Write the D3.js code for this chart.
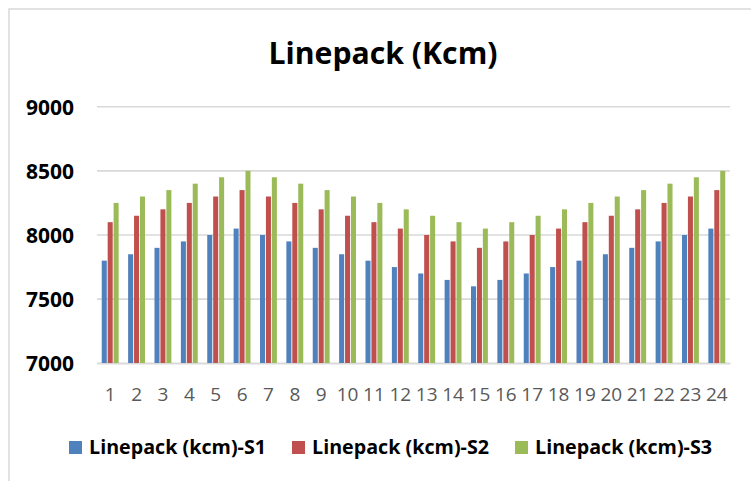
<!DOCTYPE html>
<html>
<head>
<meta charset="utf-8">
<script src="https://cdn.jsdelivr.net/npm/d3@7"></script>
<style>
  html, body { margin: 0; padding: 0; background: #fff; }
  svg { display: block; }
</style>
</head>
<body>
<script>
const categories = ["1","2","3","4","5","6","7","8","9","10","11","12","13","14","15","16","17","18","19","20","21","22","23","24"];
const seriesNames = ["Linepack (kcm)-S1", "Linepack (kcm)-S2", "Linepack (kcm)-S3"];
const s1 = [7800,7850,7900,7950,8000,8050,8000,7950,7900,7850,7800,7750,7700,7650,7600,7650,7700,7750,7800,7850,7900,7950,8000,8050];
const s2 = [8100,8150,8200,8250,8300,8350,8300,8250,8200,8150,8100,8050,8000,7950,7900,7950,8000,8050,8100,8150,8200,8250,8300,8350];
const s3 = [8250,8300,8350,8400,8450,8500,8450,8400,8350,8300,8250,8200,8150,8100,8050,8100,8150,8200,8250,8300,8350,8400,8450,8500];
const yTicks = [7000, 7500, 8000, 8500, 9000];
const colors = ["#4f81bd", "#c0504d", "#9bbb59"];
const title = "Linepack (Kcm)";

const W = 751, H = 481;
const svg = d3.select("body").append("svg").attr("width", W).attr("height", H);

// chart border (right/bottom edges fall outside the window)
svg.append("rect").attr("x", 9).attr("y", 9).attr("width", 780).attr("height", 520)
  .attr("fill", "#fff").attr("stroke", "#d9d9d9").attr("stroke-width", 1.5);

const plot = {left: 97, right: 730, top: 106.7, bottom: 363.3};

const y = d3.scaleLinear().domain([7000, 9000]).range([plot.bottom, plot.top]);
const x0 = d3.scaleBand().domain(categories).range([plot.left, plot.right])
  .paddingInner(0.36).paddingOuter(0.18);
const x1 = d3.scaleBand().domain(seriesNames).range([0, x0.bandwidth()]).paddingInner(0.15);

// title
svg.append("text").attr("x", 383).attr("y", 63.5).attr("text-anchor", "middle")
  .attr("font-family", "'Open Sans', sans-serif").attr("font-weight", "bold")
  .attr("font-size", 31).attr("fill", "#000")
  .attr("textLength", 229).attr("lengthAdjust", "spacingAndGlyphs")
  .text(title);

// gridlines
svg.append("g").selectAll("line").data(yTicks).join("line")
  .attr("x1", plot.left).attr("x2", plot.right)
  .attr("y1", d => y(d)).attr("y2", d => y(d))
  .attr("stroke", "#d9d9d9").attr("stroke-width", 1.6);

// y axis labels
const yAxis = d3.axisLeft(y).tickValues(yTicks).tickSize(0).tickPadding(0).tickFormat(d3.format("d"));
const gy = svg.append("g").attr("transform", `translate(74,0)`).call(yAxis);
gy.select(".domain").remove();
gy.selectAll("text").attr("font-family", "'Open Sans', sans-serif").attr("font-weight", "bold")
  .attr("font-size", 21).attr("fill", "#000").attr("dy", "0.36em");

// bars
const data = categories.map((c, i) => ({c, vals: [s1[i], s2[i], s3[i]]}));
const groups = svg.append("g").selectAll("g").data(data).join("g")
  .attr("transform", d => `translate(${x0(d.c)},0)`);
groups.selectAll("rect").data(d => d.vals.map((v, k) => ({k, v}))).join("rect")
  .attr("x", d => x1(seriesNames[d.k]))
  .attr("width", x1.bandwidth())
  .attr("y", d => y(d.v))
  .attr("height", d => y(7000) - y(d.v))
  .attr("fill", d => colors[d.k]);

// x axis
const xAxis = d3.axisBottom(x0).tickSize(0).tickPadding(0);
const gx = svg.append("g").attr("transform", `translate(0,${plot.bottom})`).call(xAxis);
gx.select(".domain").attr("stroke", "#d9d9d9").attr("stroke-width", 1.6);
gx.selectAll("text").attr("font-family", "'Open Sans', sans-serif")
  .attr("font-size", 19).attr("fill", "#595959").attr("dy", null).attr("y", 38);

// legend
const legend = svg.append("g").selectAll("g").data(seriesNames).join("g")
  .attr("transform", (d, i) => `translate(${69 + i * 223},441)`);
legend.append("rect").attr("width", 13).attr("height", 13).attr("fill", (d, i) => colors[i]);
legend.append("text").attr("x", 20).attr("y", 6.5).attr("dy", "0.36em")
  .attr("font-family", "'Open Sans', sans-serif").attr("font-weight", "bold")
  .attr("font-size", 19).attr("fill", "#000")
  .attr("textLength", 177).attr("lengthAdjust", "spacingAndGlyphs")
  .text(d => d);
</script>
</body>
</html>
